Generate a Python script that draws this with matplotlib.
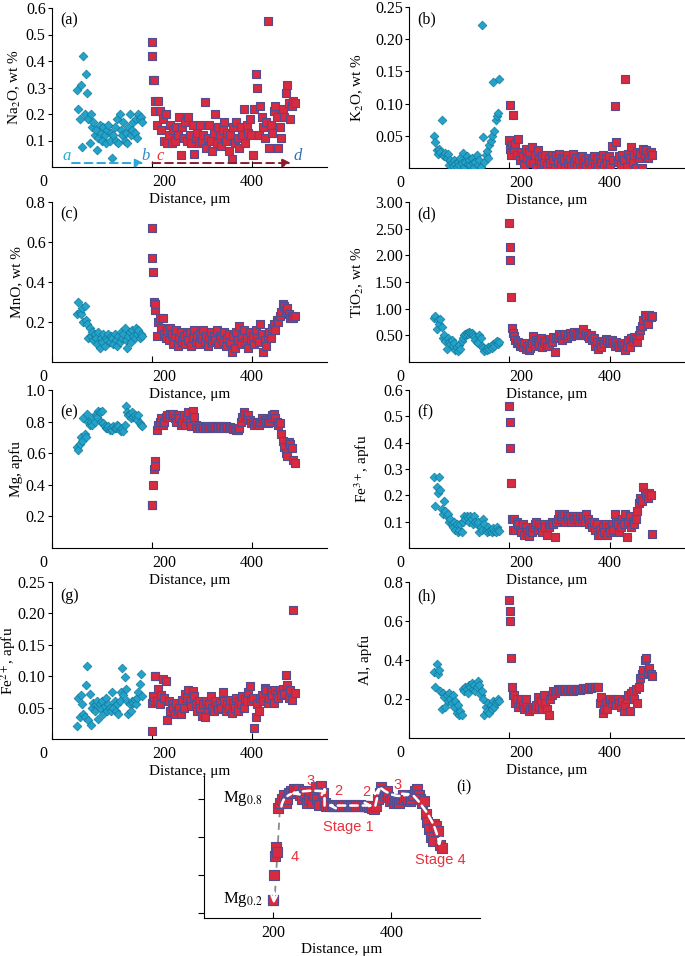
import matplotlib
matplotlib.use("Agg")
import matplotlib.pyplot as plt
from matplotlib.transforms import ScaledTranslation

plt.rcParams['font.family'] = ['Liberation Serif', 'DejaVu Serif']
plt.rcParams['mathtext.fontset'] = 'stix'

# ---------------- data ----------------
dist_teal = [50, 52.5, 55, 57.5, 60, 62.5, 65, 67.5, 70, 72.5,
             75, 77.5, 80, 82.5, 85, 87.5, 90, 92.5, 95, 97.5,
             100, 102.5, 105, 107.5, 110, 112.5, 115, 117.5, 120, 122.5,
             125, 127.5, 130, 132.5, 135, 137.5, 140, 142.5, 145, 147.5,
             150, 152.5, 155, 157.5, 160, 162.5, 165, 167.5, 170, 172.5,
             175, 177.5, 180]

dist_red = [199, 200.5, 202, 203.5, 205, 206.5,
            209, 212, 215, 218, 221, 224, 227, 230, 233, 236,
            239, 242, 245, 248, 251, 254, 257, 260, 263, 266,
            269, 272, 275, 278, 281, 284, 287, 290, 293, 296,
            299, 302, 305, 308, 311, 314, 317, 320, 323, 326,
            329, 332, 335, 338, 341, 344, 347, 350, 353, 356,
            359, 362, 365, 368, 371, 374, 377, 380, 383, 386,
            389, 392, 395, 398, 401, 404, 407, 410, 413, 416,
            419, 422, 425, 428, 431, 434, 437, 440, 443, 446,
            449, 452, 455, 458, 461, 464, 467, 470, 473, 476,
            479, 482, 485]

na2o_teal = [0.29, 0.22, 0.18, 0.31, 0.075, 0.42, 0.20, 0.35, 0.28, 0.18,
             0.09, 0.20, 0.15, 0.17, 0.12, 0.14, 0.065, 0.11, 0.16, 0.13,
             0.10, 0.15, 0.12, 0.09, 0.14, 0.16, 0.10, 0.13, 0.035, 0.12,
             0.15, 0.10, 0.18, 0.09, 0.20, 0.14, 0.12, 0.17, 0.10, 0.13,
             0.09, 0.15, 0.20, 0.12, 0.14, 0.17, 0.13, 0.18, 0.11, 0.20,
             0.18, 0.19, 0.17]
na2o_red = [0.42, 0.47, 0.33, 0.33, 0.21, 0.25,
            0.16, 0.25, 0.21, 0.14, 0.18, 0.10, 0.20, 0.09, 0.12, 0.16,
            0.09, 0.14, 0.10, 0.15, 0.12, 0.19, 0.045, 0.15, 0.11, 0.17,
            0.10, 0.19, 0.12, 0.09, 0.16, 0.05, 0.11, 0.13, 0.09, 0.16,
            0.10, 0.12, 0.245, 0.07, 0.11, 0.16, 0.10, 0.06, 0.13, 0.20,
            0.09, 0.15, 0.12, 0.08, 0.14, 0.17, 0.10, 0.13, 0.06, 0.12,
            0.03, 0.15, 0.09, 0.17, 0.11, 0.07, 0.15, 0.12, 0.22, 0.09,
            0.16, 0.13, 0.18, 0.12, 0.045, 0.22, 0.35, 0.30, 0.12, 0.23,
            0.19, 0.15, 0.11, 0.17, 0.55, 0.07, 0.16, 0.13, 0.21, 0.23,
            0.19, 0.07, 0.15, 0.11, 0.22, 0.19, 0.28, 0.31, 0.24, 0.18,
            0.23, 0.25, 0.24]

k2o_teal = [0.05, 0.04, 0.028, 0.022, 0.03, 0.025, 0.074, 0.02, 0.018, 0.024,
            0.015, 0.022, 0.005, 0.012, 0.008, 0.003, 0.012, 0.006, 0.002, 0.01,
            0.004, 0.016, 0.008, 0.024, 0.002, 0.01, 0.018, 0.006, 0.012, 0.004,
            0.015, 0.008, 0.002, 0.01, 0.02, 0.004, 0.012, 0.002, 0.222, 0.048,
            0.01, 0.02, 0.026, 0.015, 0.035, 0.042, 0.05, 0.133, 0.058, 0.075,
            0.08, 0.085, 0.138]
k2o_red = [0.043, 0.098, 0.03, 0.02, 0.035, 0.083,
           0.03, 0.038, 0.02, 0.045, 0.012, 0.025, 0.018, 0.005, 0.03, 0.015,
           0.025, 0.01, 0.032, 0.008, 0.02, 0.0, 0.028, 0.012, 0.006, 0.018,
           0.01, 0.02, 0.004, 0.015, 0.008, 0.02, 0.012, 0.0, 0.018, 0.01,
           0.022, 0.005, 0.015, 0.012, 0.0, 0.02, 0.008, 0.014, 0.003, 0.022,
           0.01, 0.016, 0.005, 0.012, 0.0, 0.018, 0.007, 0.013, 0.003, 0.016,
           0.01, 0.0, 0.012, 0.018, 0.006, 0.014, 0.002, 0.016, 0.01, 0.02,
           0.005, 0.015, 0.008, 0.018, 0.004, 0.034, 0.012, 0.096, 0.04, 0.01,
           0.018, 0.005, 0.02, 0.012, 0.138, 0.002, 0.022, 0.016, 0.033, 0.01,
           0.02, 0.0, 0.025, 0.015, 0.022, 0.0, 0.03, 0.02, 0.028, 0.015,
           0.022, 0.025, 0.02]

mno_teal = [0.24, 0.30, 0.25, 0.24, 0.27, 0.20, 0.28, 0.21, 0.19, 0.12,
            0.17, 0.13, 0.15, 0.11, 0.14, 0.12, 0.09, 0.15, 0.07, 0.12,
            0.10, 0.14, 0.08, 0.12, 0.11, 0.14, 0.10, 0.13, 0.12, 0.09,
            0.14, 0.11, 0.08, 0.13, 0.10, 0.15, 0.12, 0.14, 0.17, 0.11,
            0.07, 0.13, 0.15, 0.10, 0.16, 0.13, 0.12, 0.17, 0.14, 0.16,
            0.12, 0.14, 0.13]
mno_red = [0.67, 0.52, 0.45, 0.30, 0.26, 0.29,
           0.13, 0.20, 0.22, 0.17, 0.22, 0.14, 0.12, 0.16, 0.11, 0.17,
           0.14, 0.09, 0.13, 0.16, 0.08, 0.12, 0.15, 0.10, 0.13, 0.09,
           0.14, 0.11, 0.15, 0.08, 0.12, 0.16, 0.10, 0.13, 0.09, 0.14,
           0.12, 0.16, 0.10, 0.13, 0.08, 0.12, 0.15, 0.10, 0.13, 0.11,
           0.16, 0.09, 0.13, 0.12, 0.10, 0.15, 0.08, 0.12, 0.14, 0.10,
           0.05, 0.13, 0.07, 0.15, 0.11, 0.18, 0.09, 0.13, 0.16, 0.10,
           0.12, 0.07, 0.15, 0.11, 0.13, 0.09, 0.16, 0.12, 0.10, 0.19,
           0.14, 0.05, 0.11, 0.08, 0.13, 0.15, 0.12, 0.17, 0.19, 0.16,
           0.21, 0.20, 0.23, 0.25, 0.29, 0.28, 0.26, 0.27, 0.24, 0.22,
           0.23, 0.22, 0.23]

tio2_teal = [0.82, 0.86, 0.62, 0.78, 0.72, 0.80, 0.66, 0.45, 0.50, 0.40,
             0.25, 0.45, 0.38, 0.33, 0.42, 0.30, 0.36, 0.22, 0.28, 0.20,
             0.32, 0.25, 0.40, 0.45, 0.50, 0.53, 0.55, 0.52, 0.56, 0.54,
             0.55, 0.50, 0.46, 0.42, 0.38, 0.35, 0.50, 0.45, 0.30, 0.26,
             0.20, 0.25, 0.22, 0.28, 0.24, 0.30, 0.26, 0.34, 0.30, 0.37,
             0.40, 0.33, 0.38]
tio2_red = [2.60, 2.15, 1.92, 1.22, 0.63, 0.55,
            0.48, 0.42, 0.35, 0.38, 0.30, 0.33, 0.28, 0.36, 0.25, 0.30,
            0.22, 0.27, 0.35, 0.48, 0.30, 0.42, 0.38, 0.33, 0.45, 0.28,
            0.40, 0.35, 0.30, 0.30, 0.44, 0.38, 0.47, 0.18, 0.45, 0.46,
            0.52, 0.48, 0.42, 0.50, 0.53, 0.45, 0.50, 0.55, 0.48, 0.52,
            0.57, 0.50, 0.55, 0.53, 0.50, 0.53, 0.62, 0.51, 0.55, 0.49,
            0.45, 0.50, 0.42, 0.45, 0.30, 0.38, 0.25, 0.33, 0.28, 0.40,
            0.35, 0.44, 0.42, 0.38, 0.40, 0.42, 0.35, 0.30, 0.38, 0.32,
            0.28, 0.30, 0.35, 0.32, 0.22, 0.30, 0.42, 0.28, 0.45, 0.40,
            0.46, 0.44, 0.38, 0.50, 0.60, 0.68, 0.78, 0.88, 0.85, 0.72,
            0.88, 0.84, 0.86]

mg_teal = [0.64, 0.62, 0.66, 0.70, 0.68, 0.82, 0.72, 0.70, 0.85, 0.80,
           0.78, 0.80, 0.78, 0.82, 0.80, 0.85, 0.83, 0.87, 0.86, 0.80,
           0.87, 0.79, 0.77, 0.76, 0.76, 0.77, 0.75, 0.76, 0.75, 0.77,
           0.76, 0.76, 0.78, 0.77, 0.75, 0.74, 0.76, 0.74, 0.78, 0.90,
           0.86, 0.84, 0.85, 0.82, 0.86, 0.83, 0.84, 0.82, 0.81, 0.84,
           0.79, 0.78, 0.77]
mg_red = [0.27, 0.27, 0.40, 0.50, 0.55, 0.52,
          0.75, 0.78, 0.80, 0.82, 0.78, 0.80, 0.83, 0.84, 0.83, 0.85,
          0.84, 0.85, 0.82, 0.80, 0.84, 0.82, 0.78, 0.80, 0.84, 0.78,
          0.82, 0.86, 0.80, 0.77, 0.87, 0.83, 0.78, 0.76, 0.77, 0.76,
          0.77, 0.76, 0.765, 0.76, 0.77, 0.76, 0.765, 0.77, 0.76, 0.765,
          0.77, 0.765, 0.76, 0.77, 0.765, 0.76, 0.77, 0.765, 0.76, 0.765,
          0.76, 0.755, 0.76, 0.75, 0.745, 0.76, 0.80, 0.83, 0.86, 0.84,
          0.82, 0.84, 0.81, 0.79, 0.80, 0.78, 0.80, 0.79, 0.78, 0.80,
          0.82, 0.80, 0.81, 0.80, 0.79, 0.80, 0.82, 0.84, 0.85, 0.82,
          0.80, 0.78, 0.79, 0.72, 0.68, 0.64, 0.60, 0.58, 0.67, 0.66,
          0.63, 0.56, 0.54]

fe3_teal = [0.27, 0.16, 0.23, 0.21, 0.27, 0.22, 0.15, 0.13, 0.18, 0.14,
            0.12, 0.13, 0.10, 0.11, 0.09, 0.08, 0.10, 0.07, 0.09, 0.06,
            0.07, 0.09, 0.06, 0.10, 0.12, 0.11, 0.12, 0.115, 0.10, 0.12,
            0.11, 0.09, 0.12, 0.10, 0.09, 0.10, 0.06, 0.08, 0.07, 0.11,
            0.09, 0.07, 0.06, 0.08, 0.065, 0.07, 0.06, 0.075, 0.065, 0.06,
            0.08, 0.07, 0.065]
fe3_red = [0.54, 0.48, 0.38, 0.245, 0.11, 0.07,
           0.11, 0.07, 0.10, 0.09, 0.07, 0.06, 0.09, 0.05, 0.08, 0.06,
           0.045, 0.07, 0.06, 0.08, 0.09, 0.10, 0.07, 0.09, 0.08, 0.06,
           0.09, 0.08, 0.05, 0.08, 0.09, 0.10, 0.09, 0.04, 0.10, 0.11,
           0.13, 0.11, 0.12, 0.13, 0.10, 0.12, 0.11, 0.12, 0.10, 0.12,
           0.11, 0.12, 0.11, 0.10, 0.12, 0.11, 0.12, 0.10, 0.13, 0.11,
           0.09, 0.10, 0.08, 0.10, 0.07, 0.09, 0.05, 0.07, 0.05, 0.08,
           0.06, 0.09, 0.05, 0.08, 0.06, 0.09, 0.07, 0.13, 0.10, 0.09,
           0.06, 0.08, 0.11, 0.09, 0.13, 0.04, 0.10, 0.12, 0.08, 0.10,
           0.09, 0.11, 0.14, 0.17, 0.19, 0.18, 0.23, 0.21, 0.20, 0.19,
           0.21, 0.20, 0.055]

fe2_teal = [0.02, 0.065, 0.035, 0.07, 0.055, 0.04, 0.035, 0.086, 0.116, 0.03,
            0.072, 0.022, 0.05, 0.058, 0.045, 0.055, 0.06, 0.032, 0.055, 0.048,
            0.06, 0.04, 0.052, 0.065, 0.045, 0.055, 0.05, 0.045, 0.075, 0.05,
            0.06, 0.045, 0.055, 0.04, 0.06, 0.075, 0.113, 0.07, 0.098, 0.08,
            0.06, 0.04, 0.055, 0.045, 0.06, 0.058, 0.062, 0.055, 0.065, 0.075,
            0.087, 0.103, 0.068]
fe2_red = [0.012, 0.057, 0.068, 0.06, 0.10, 0.10,
           0.06, 0.08, 0.055, 0.07, 0.095, 0.065, 0.092, 0.03, 0.06, 0.045,
           0.055, 0.05, 0.04, 0.058, 0.045, 0.05, 0.04, 0.062, 0.05, 0.072,
           0.065, 0.078, 0.06, 0.052, 0.077, 0.068, 0.055, 0.045, 0.06, 0.05,
           0.037, 0.055, 0.035, 0.06, 0.048, 0.055, 0.068, 0.05, 0.045, 0.06,
           0.052, 0.047, 0.058, 0.05, 0.075, 0.06, 0.045, 0.055, 0.05, 0.062,
           0.042, 0.058, 0.05, 0.065, 0.045, 0.06, 0.055, 0.068, 0.05, 0.063,
           0.06, 0.075, 0.085, 0.06, 0.065, 0.017, 0.035, 0.055, 0.045, 0.065,
           0.07, 0.06, 0.082, 0.078, 0.058, 0.065, 0.075, 0.07, 0.058, 0.078,
           0.072, 0.065, 0.078, 0.07, 0.08, 0.072, 0.102, 0.086, 0.065, 0.078,
           0.062, 0.206, 0.073]

al_teal = [0.34, 0.26, 0.38, 0.33, 0.35, 0.24, 0.15, 0.23, 0.21, 0.16,
           0.22, 0.19, 0.23, 0.20, 0.18, 0.22, 0.16, 0.19, 0.13, 0.17,
           0.12, 0.14, 0.12, 0.25, 0.24, 0.26, 0.25, 0.23, 0.27, 0.26,
           0.28, 0.25, 0.27, 0.24, 0.26, 0.29, 0.27, 0.22, 0.24, 0.20,
           0.12, 0.16, 0.14, 0.18, 0.13, 0.17, 0.15, 0.19, 0.16, 0.18,
           0.19, 0.20, 0.19]
al_red = [0.71, 0.65, 0.60, 0.41, 0.26, 0.22,
          0.22, 0.18, 0.20, 0.16, 0.18, 0.20, 0.17, 0.15, 0.20, 0.16,
          0.14, 0.15, 0.16, 0.15, 0.15, 0.17, 0.21, 0.16, 0.19, 0.15,
          0.22, 0.18, 0.15, 0.12, 0.20, 0.22, 0.24, 0.23, 0.24, 0.25,
          0.245, 0.24, 0.25, 0.245, 0.25, 0.24, 0.25, 0.245, 0.25, 0.24,
          0.25, 0.245, 0.25, 0.25, 0.245, 0.25, 0.255, 0.25, 0.255, 0.25,
          0.26, 0.255, 0.26, 0.26, 0.26, 0.26, 0.26, 0.18, 0.21, 0.13,
          0.15, 0.18, 0.15, 0.19, 0.20, 0.18, 0.20, 0.19, 0.17, 0.20,
          0.18, 0.16, 0.19, 0.14, 0.17, 0.20, 0.22, 0.14, 0.23, 0.24,
          0.20, 0.25, 0.18, 0.26, 0.31, 0.33, 0.35, 0.40, 0.41, 0.34,
          0.36, 0.33, 0.32]

x_ticks = [0, 200, 400]
x_tick_labels = ['0', '200', '400']

# ---------------- style ----------------
TEAL = '#23a3c9'
TEAL_EDGE = '#137a9c'
RED = '#d92a3e'
RED_EDGE = '#544c90'
ANN_RED = '#e8323f'
S_D = 20
S_S = 40

W, H = 685, 956
fig = plt.figure(figsize=(W / 100, H / 100), dpi=100)


def add_ax(l, t, r, b):
    a = fig.add_axes([l / W, 1 - b / H, (r - l) / W, (b - t) / H])
    a.patch.set_visible(False)
    return a


panels = [
    ('(a)', (52, 8, 327, 167), (0, 0.6), [0.1, 0.2, 0.3, 0.4, 0.5, 0.6], '{:.1f}',
     'Na$_2$O, wt %', -29, 0.97, na2o_teal, na2o_red),
    ('(b)', (409, 7, 685, 168), (0, 0.25), [0.05, 0.10, 0.15, 0.20, 0.25], '{:.2f}',
     'K$_2$O, wt %', -43, 0.97, k2o_teal, k2o_red),
    ('(c)', (52, 202, 327, 362), (0, 0.8), [0.2, 0.4, 0.6, 0.8], '{:.1f}',
     'MnO, wt %', -29, 0.97, mno_teal, mno_red),
    ('(d)', (409, 202, 685, 362), (0, 3.0), [0.5, 1.0, 1.5, 2.0, 2.5, 3.0], '{:.2f}',
     'TiO$_2$, wt %', -43, 0.97, tio2_teal, tio2_red),
    ('(e)', (52, 390, 327, 548), (0, 1.0), [0.2, 0.4, 0.6, 0.8, 1.0], '{:.1f}',
     'Mg, apfu', -29, 0.91, mg_teal, mg_red),
    ('(f)', (409, 390, 685, 548), (0, 0.6), [0.1, 0.2, 0.3, 0.4, 0.5, 0.6], '{:.1f}',
     'Fe$^{3+}$, apfu', -37, 0.91, fe3_teal, fe3_red),
    ('(g)', (52, 582, 327, 739), (0, 0.25), [0.05, 0.10, 0.15, 0.20, 0.25], '{:.2f}',
     'Fe$^{2+}$, apfu', -34, 0.96, fe2_teal, fe2_red),
    ('(h)', (409, 582, 685, 738), (0, 0.8), [0.2, 0.4, 0.6, 0.8], '{:.1f}',
     'Al, apfu', -37, 0.96, al_teal, al_red),
]

label_shift_px = {'0': -9, '200': 12, '400': 0}

for tag, box, ylim, yt, fmt, ylab, ylab_dx, tag_y, yteal, yred in panels:
    l, t, r, b = box
    wpx, hpx = r - l, b - t
    ax = add_ax(l, t, r, b)
    ax.scatter(dist_teal, yteal, marker='D', s=S_D, c=TEAL, edgecolors=TEAL_EDGE,
               linewidths=0.5, zorder=3)
    ax.scatter(dist_red, yred, marker='s', s=S_S, c=RED, edgecolors=RED_EDGE,
               linewidths=0.8, zorder=3)
    ax.set_xlim(0, 550)
    ax.set_ylim(*ylim)
    for sp in ('top', 'right'):
        ax.spines[sp].set_visible(False)
    for sp in ('left', 'bottom'):
        ax.spines[sp].set_linewidth(0.8)
    ax.set_xticks(x_ticks)
    ax.set_xticklabels(x_tick_labels)
    ax.set_yticks(yt)
    ax.set_yticklabels([fmt.format(v) for v in yt])
    ax.tick_params(axis='x', direction='in', length=4, width=0.8, pad=5, labelsize=11.5)
    ax.tick_params(axis='y', direction='out', length=3, width=0.8, pad=1.5, labelsize=11.5)
    for lab in ax.get_xticklabels():
        dx = label_shift_px.get(lab.get_text(), 0)
        lab.set_transform(lab.get_transform() + ScaledTranslation(dx / 100, 0, fig.dpi_scale_trans))
    ax.set_xlabel('Distance, μm', fontsize=11)
    ax.xaxis.set_label_coords(0.5, -26 / hpx)
    ax.set_ylabel(ylab, fontsize=11)
    ax.yaxis.set_label_coords(ylab_dx / wpx, 0.5)
    ax.text(0.03, tag_y, tag, transform=ax.transAxes, ha='left', va='top', fontsize=11.5)
    if tag == '(a)':
        ax.annotate('', xy=(183, 0.015), xytext=(40, 0.015),
                    arrowprops=dict(arrowstyle='-|>', color='#2aa9d6', lw=1.4,
                                    linestyle=(0, (4, 2.5)), mutation_scale=12,
                                    shrinkA=0, shrinkB=0))
        ax.annotate('', xy=(478, 0.015), xytext=(201, 0.015),
                    arrowprops=dict(arrowstyle='-|>', color='#8c1c2b', lw=1.4,
                                    linestyle=(0, (4, 2.5)), mutation_scale=12,
                                    shrinkA=0, shrinkB=0))
        ax.text(30, 0.04, 'a', color='#2aa9d6', style='italic', fontsize=12, ha='center', va='center')
        ax.text(187, 0.04, 'b', color='#2a8ccc', style='italic', fontsize=12, ha='center', va='center')
        ax.text(216, 0.04, 'c', color=ANN_RED, style='italic', fontsize=12, ha='center', va='center')
        ax.text(492, 0.04, 'd', color='#2f6fb5', style='italic', fontsize=12, ha='center', va='center')

# ---------------- panel (i) ----------------
axi = add_ax(204, 776, 480, 918)
wpx, hpx = 276, 142
axi.scatter(dist_red, mg_red, marker='s', s=S_S + 8, c=RED, edgecolors=RED_EDGE,
            linewidths=0.8, zorder=3)
axi.plot([dist_red[0] + 3, dist_red[7]], [mg_red[0] - 0.03, mg_red[7]],
         ls=(0, (4, 3)), color='#8a8a8a', lw=1.3, zorder=2)
axi.set_xlim(83, 550)
axi.set_ylim(0.175, 0.92)
for sp in ('top', 'right'):
    axi.spines[sp].set_visible(False)
for sp in ('left', 'bottom'):
    axi.spines[sp].set_linewidth(0.8)
axi.set_xticks([200, 400])
axi.set_xticklabels(['200', '400'])
axi.set_yticks([0.2, 0.4, 0.6, 0.8])
axi.set_yticklabels([])
axi.tick_params(axis='x', direction='in', length=4, width=0.8, pad=5, labelsize=11.5)
axi.tick_params(axis='y', direction='out', length=4, width=0.8)
axi.set_xlabel('Distance, μm', fontsize=11)
axi.xaxis.set_label_coords(0.5, -25 / hpx)

axi.text(115, 0.80, 'Mg$_{0.8}$', fontsize=12, ha='left', va='center')
axi.text(115, 0.27, 'Mg$_{0.2}$', fontsize=12, ha='left', va='center')
axi.text(522, 0.858, '(i)', fontsize=11.5, ha='center', va='center')

white = dict(color='white', lw=1.8, linestyle=(0, (3, 2)), shrinkA=0, shrinkB=0,
             mutation_scale=10)
arrows_i = [
    ((369, 0.765), (292, 0.765), '<->', 'arc3,rad=0'),
    ((287, 0.765), (287, 0.865), '->', 'arc3,rad=0'),
    ((284, 0.84), (230, 0.825), '->', 'arc3,rad=0.1'),
    ((373, 0.765), (380, 0.865), '->', 'arc3,rad=0'),
    ((383, 0.855), (433, 0.83), '->', 'arc3,rad=0.3'),
    ((438, 0.815), (482, 0.55), '->', 'arc3,rad=-0.15'),
]
for (x0, y0), (x1, y1), sty, cs in arrows_i:
    axi.annotate('', xy=(x1, y1), xytext=(x0, y0),
                 arrowprops=dict(arrowstyle=sty, connectionstyle=cs, **white), zorder=5)
axi.annotate('', xy=(230, 0.825), xytext=(214, 0.76),
             arrowprops=dict(arrowstyle='-', connectionstyle='arc3,rad=-0.3', **white), zorder=5)
axi.annotate('', xy=(dist_red[0] + 2, mg_red[0] - 0.02), xytext=(dist_red[0] + 3, mg_red[0] + 0.04),
             arrowprops=dict(arrowstyle='->', color='white', lw=1.6, shrinkA=0, shrinkB=0,
                             mutation_scale=10), zorder=5)

sans = ['Liberation Sans', 'DejaVu Sans']
for txt, x, y in [('3', 263, 0.895), ('2', 310, 0.84), ('2', 357, 0.835),
                  ('3', 410, 0.875), ('Stage 1', 327, 0.655), ('4', 236, 0.495),
                  ('Stage 4', 483, 0.48)]:
    axi.text(x, y, txt, color=ANN_RED, fontsize=10.5, family=sans, ha='center', va='center')

fig.savefig('out.png', dpi=100)
